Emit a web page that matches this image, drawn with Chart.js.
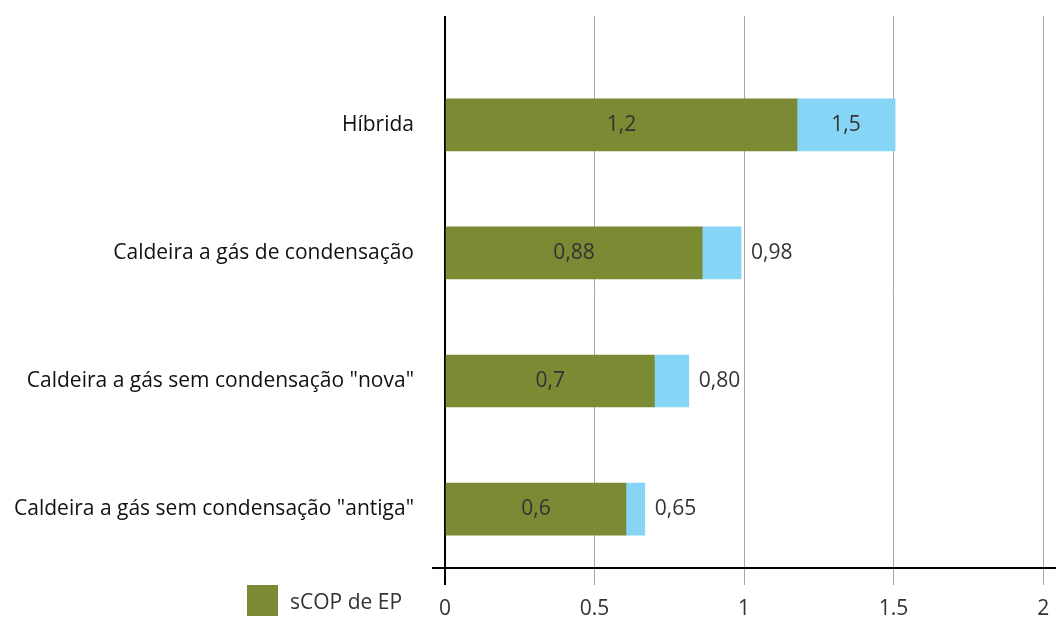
<!DOCTYPE html>
<html>
<head>
<meta charset="utf-8">
<script src="https://cdn.jsdelivr.net/npm/chart.js@4"></script>
<style>
  html, body { margin: 0; padding: 0; background: #fff; }
  #wrap { position: relative; width: 1056px; height: 619px; }
  #legend { position: absolute; left: 247px; top: 585px; display: flex; align-items: center;
            font-family: "Open Sans", sans-serif; font-size: 21px; color: #333; }
  #legend .box { width: 31px; height: 31px; margin-right: 12px; }
</style>
</head>
<body>
<div id="wrap">
  <canvas id="chart" width="1056" height="619"></canvas>
  <div id="legend"></div>
</div>
<script>
// --- DATA ---
const categories = [
  'Híbrida',
  'Caldeira a gás de condensação',
  'Caldeira a gás sem condensação "nova"',
  'Caldeira a gás sem condensação "antiga"'
];
const scopValues = [1.177, 0.86, 0.70, 0.605];      // green segment
const extraValues = [0.328, 0.13, 0.115, 0.063];     // light blue segment
const scopLabels = ['1,2', '0,88', '0,7', '0,6'];
const totalLabels = ['1,5', '0,98', '0,80', '0,65'];
const xTicks = [0, 0.5, 1, 1.5, 2];

const GREEN = '#7b8b34';
const BLUE = '#87d5f6';
const FONT = '"Open Sans", sans-serif';
const Y_MIN = -0.85, Y_MAX = 3.46;

// value labels drawn on top of the bars
const barLabels = {
  id: 'barLabels',
  afterDatasetsDraw(chart) {
    const ctx = chart.ctx;
    const green = chart.getDatasetMeta(0).data;
    const blue = chart.getDatasetMeta(1).data;
    ctx.save();
    ctx.font = '21px ' + FONT;
    ctx.fillStyle = '#333';
    ctx.textBaseline = 'middle';
    green.forEach((bar, i) => {
      ctx.textAlign = 'center';
      ctx.fillText(scopLabels[i], (bar.base + bar.x) / 2, bar.y);
      const b = blue[i];
      if (b.x - b.base > 60) {
        ctx.fillText(totalLabels[i], (b.base + b.x) / 2, b.y);
      } else {
        ctx.textAlign = 'left';
        ctx.fillText(totalLabels[i], b.x + 10, b.y);
      }
    });
    ctx.restore();
  }
};

const chart = new Chart(document.getElementById('chart'), {
  type: 'bar',
  data: {
    datasets: [
      { label: 'sCOP de EP', data: scopValues.map((v, i) => ({ x: v, y: i })), backgroundColor: GREEN },
      { label: 'extra', data: extraValues.map((v, i) => ({ x: v, y: i })), backgroundColor: BLUE }
    ]
  },
  options: {
    indexAxis: 'y',
    responsive: false,
    animation: false,
    barThickness: 52,
    layout: { padding: { top: 16, right: 0, left: 0, bottom: 0 } },
    scales: {
      x: {
        type: 'linear',
        stacked: true,
        min: 0,
        max: 2.043,
        ticks: {
          includeBounds: false,
          stepSize: 0.5,
          padding: 11,
          color: '#333',
          font: { family: FONT, size: 21 },
          callback: v => xTicks.includes(v) ? String(v) : ''
        },
        grid: {
          color: c => c.tick && c.tick.value === 0 ? '#000' : '#a6a6a6',
          lineWidth: c => c.tick && c.tick.value === 0 ? 2 : 1,
          tickLength: 17
        },
        border: { display: true, color: '#000', width: 2 },
        afterFit: s => { s.height = 51; s.paddingLeft = 0; s.paddingRight = 0; }
      },
      y: {
        type: 'linear',
        stacked: true,
        reverse: true,
        offset: false,
        min: Y_MIN,
        max: Y_MAX,
        ticks: {
          stepSize: 1,
          autoSkip: false,
          padding: 18,
          color: '#111',
          font: { family: FONT, size: 21 },
          callback: v => Number.isInteger(v) && categories[v] ? categories[v] : ''
        },
        grid: {
          offset: false,
          drawOnChartArea: false,
          color: c => c.tick && c.tick.value === Y_MAX ? '#000' : 'rgba(0,0,0,0)',
          lineWidth: 2,
          tickLength: 13
        },
        border: { display: false },
        afterFit: s => { s.width = 445; s.paddingTop = 0; s.paddingBottom = 0; }
      }
    },
    plugins: {
      legend: { display: false },
      tooltip: { enabled: false }
    }
  },
  plugins: [barLabels]
});

// html legend, only the green series
const ds = chart.data.datasets[0];
document.getElementById('legend').innerHTML =
  `<span class="box" style="background:${ds.backgroundColor}"></span><span>${ds.label}</span>`;
</script>
</body>
</html>
